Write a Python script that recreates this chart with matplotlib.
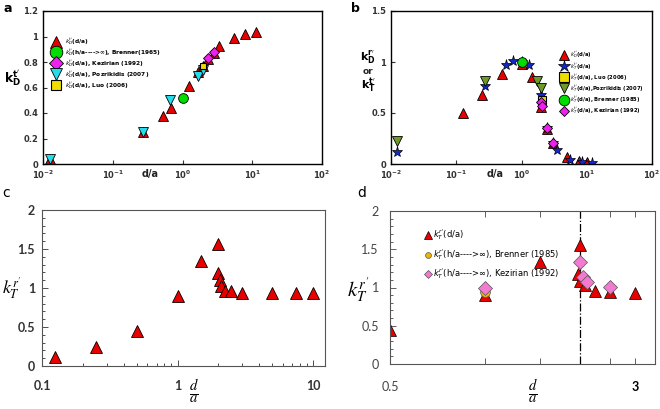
import matplotlib
matplotlib.use("Agg")
import matplotlib.pyplot as plt
from matplotlib.ticker import LogLocator, FixedLocator, NullFormatter, AutoMinorLocator

# ---------------- data ----------------
# panel a
a_tri_x = [0.0125, 0.27, 0.52, 0.68, 1.25, 1.65, 2.0, 2.3, 2.8, 3.3, 5.4, 8.0, 11.5]
a_tri_y = [0.04, 0.25, 0.38, 0.44, 0.61, 0.72, 0.77, 0.82, 0.87, 0.925, 0.99, 1.02, 1.035]
a_bren_x = [1.0]
a_bren_y = [0.52]
a_kez_x = [2.35, 2.8]
a_kez_y = [0.83, 0.875]
a_poz_x = [0.0125, 0.27, 0.66, 1.65, 2.0]
a_poz_y = [0.04, 0.25, 0.50, 0.69, 0.74]
a_luo_x = [1.95]
a_luo_y = [0.77]

# panel b
b_tri_x = [0.125, 0.25, 0.5, 1.0, 1.45, 2.0, 2.5, 3.0, 5.0, 7.5, 10.0]
b_tri_y = [0.5, 0.68, 0.88, 0.985, 0.85, 0.56, 0.34, 0.21, 0.065, 0.026, 0.02]
b_star_x = [0.0125, 0.28, 0.57, 0.73, 1.0, 1.3, 2.0, 2.5, 3.0, 3.5, 5.6, 8.4, 12.0]
b_star_y = [0.115, 0.76, 0.97, 1.01, 1.0, 0.97, 0.68, 0.35, 0.21, 0.14, 0.035, 0.016, 0.005]
b_luo_x = [2.05]
b_luo_y = [0.63]
b_poz_x = [0.0125, 0.28, 1.72, 2.0]
b_poz_y = [0.23, 0.81, 0.81, 0.75]
b_bren_x = [1.0]
b_bren_y = [1.0]
b_kez_x = [2.0, 2.05, 2.5, 3.0]
b_kez_y = [0.61, 0.57, 0.35, 0.21]

# panel c
c_x = [0.125, 0.25, 0.5, 1.0, 1.5, 2.0, 2.0, 2.05, 2.1, 2.25, 2.5, 3.0, 5.0, 7.5, 10.0]
c_y = [0.12, 0.25, 0.45, 0.9, 1.34, 1.56, 1.19, 1.10, 1.02, 0.96, 0.96, 0.94, 0.94, 0.94, 0.94]

# panel d
d_tri_x = [0.5, 1.0, 1.5, 2.0, 1.98, 2.01, 2.08, 2.24, 2.49, 2.99]
d_tri_y = [0.45, 0.9, 1.33, 1.56, 1.17, 1.09, 1.03, 0.95, 0.945, 0.93]
d_bren_x = [1.0]
d_bren_y = [0.94]
d_kez_x = [1.0, 2.0, 2.05, 2.11, 2.49]
d_kez_y = [1.0, 1.33, 1.14, 1.07, 1.01]
d_xref = 2.0

RED = '#e80000'

fig = plt.figure(figsize=(6.6, 4.09), dpi=100)
W, H = 660, 409


def add_ax(l, t, r, b):
    return fig.add_axes([l / W, 1 - b / H, (r - l) / W, (b - t) / H])


def style_top(ax):
    for s in ax.spines.values():
        s.set_linewidth(1.0)
    ax.tick_params(which='both', direction='in', labelsize=6, colors='#333333',
                   width=0.8)
    ax.tick_params(which='major', length=3)
    ax.tick_params(which='minor', length=0)
    for lab in ax.get_xticklabels() + ax.get_yticklabels():
        lab.set_fontweight('bold')


# ---------------- panel a ----------------
ax = add_ax(43, 11, 322, 164)
ms = 7
ax.plot(a_tri_x, a_tri_y, '^', ms=ms, mfc=RED, mec='k', mew=0.6, ls='none',
        label=r"$k_D^{t'}$(d/a)")
ax.plot(a_bren_x, a_bren_y, 'o', ms=ms, mfc='#00dd00', mec='k', mew=0.6, ls='none',
        label=r"$k_D^{t'}$(h/a---->$\infty$), Brenner(1965)")
ax.plot(a_kez_x, a_kez_y, 'D', ms=ms - 1.5, mfc='#ee22ee', mec='k', mew=0.6, ls='none',
        label=r"$k_D^{t'}$(d/a), Kezirian (1992)")
ax.plot(a_poz_x, a_poz_y, 'v', ms=ms, mfc='#22ddee', mec='k', mew=0.6, ls='none',
        label=r"$k_D^{t'}$(d/a), Pozrikidis (2007)")
ax.plot(a_luo_x, a_luo_y, 's', ms=ms - 2, mfc='#eedd00', mec='k', mew=0.8, ls='none',
        label=r"$k_D^{t'}$(d/a), Luo (2006)")
ax.set_xscale('log')
ax.set_xlim(0.01, 100)
ax.set_ylim(0, 1.2)
ax.set_yticks([0, 0.2, 0.4, 0.6, 0.8, 1.0, 1.2])
ax.set_yticklabels(['0', '0.2', '0.4', '0.6', '0.8', '1', '1.2'])
ax.xaxis.set_major_locator(LogLocator(base=10, numticks=10))
ax.xaxis.set_minor_formatter(NullFormatter())
style_top(ax)
leg = ax.legend(loc='upper left', bbox_to_anchor=(0.02, 0.86), frameon=False,
                fontsize=4.2, labelspacing=0.05, handletextpad=0.9,
                handlelength=1.2, markerscale=1.3, borderaxespad=0.3)
for t in leg.get_texts():
    t.set_fontweight('bold')
fig.text(13 / W, 1 - 78 / H, r"$\mathbf{k_{D}^{t'}}$", fontsize=9, ha='center', va='center')
fig.text(150 / W, 1 - 174 / H, 'd/a', fontsize=7, fontweight='bold', ha='center',
         va='center', color='#222222')

# ---------------- panel b ----------------
ax = add_ax(391, 11, 652, 164)
ax.plot(b_tri_x, b_tri_y, '^', ms=ms, mfc=RED, mec='k', mew=0.6, ls='none',
        label=r"$k_D^{r'}$(d/a)")
ax.plot(b_star_x, b_star_y, '*', ms=ms + 1, mfc='#1428c8', mec='k', mew=0.5, ls='none',
        label=r"$k_T^{t'}$(d/a)")
ax.plot(b_luo_x, b_luo_y, 's', ms=ms - 1, mfc='#eedd00', mec='k', mew=0.8, ls='none',
        label=r"$k_T^{t'}$(d/a), Luo (2006)")
ax.plot(b_poz_x, b_poz_y, 'v', ms=ms, mfc='#6f9a2a', mec='k', mew=0.6, ls='none',
        label=r"$k_T^{t'}$(d/a),Pozrikidis (2007)")
ax.plot(b_bren_x, b_bren_y, 'o', ms=ms, mfc='#00dd00', mec='k', mew=0.6, ls='none',
        label=r"$k_T^{t'}$(d/a), Brenner (1985)")
ax.plot(b_kez_x, b_kez_y, 'D', ms=ms - 2, mfc='#ee22ee', mec='k', mew=0.6, ls='none',
        label=r"$k_T^{t'}$(d/a), Kezirian (1992)")
ax.set_xscale('log')
ax.set_xlim(0.01, 100)
ax.set_ylim(0, 1.5)
ax.set_yticks([0, 0.5, 1.0, 1.5])
ax.set_yticklabels(['0', '0.5', '1', '1.5'])
ax.xaxis.set_major_locator(LogLocator(base=10, numticks=10))
ax.xaxis.set_minor_formatter(NullFormatter())
style_top(ax)
leg = ax.legend(loc='upper left', bbox_to_anchor=(0.635, 0.77), frameon=False,
                fontsize=3.8, labelspacing=0.1, handletextpad=0.6,
                handlelength=1.2, markerscale=1.1, borderaxespad=0.3)
for t in leg.get_texts():
    t.set_fontweight('bold')
fig.text(368 / W, 1 - 57 / H, r"$\mathbf{k_{D}^{r'}}$", fontsize=8, ha='center', va='center')
fig.text(368 / W, 1 - 72 / H, 'or', fontsize=6.5, fontweight='bold', ha='center', va='center',
         color='#222222')
fig.text(368 / W, 1 - 86 / H, r"$\mathbf{k_{T}^{t'}}$", fontsize=8, ha='center', va='center')
fig.text(495 / W, 1 - 174 / H, 'd/a', fontsize=7, fontweight='bold', ha='center',
         va='center', color='#222222')

# ---------------- panel c ----------------
ax = add_ax(42, 210, 325, 366)
ax.plot(c_x, c_y, '^', ms=9, mfc=RED, mec='k', mew=0.6, ls='none')
ax.set_xscale('log')
ax.set_xlim(0.1, 12.25)
ax.set_ylim(0, 2)
ax.set_xticks([0.1, 1, 10])
ax.set_xticklabels(['0.1', '1', '10'])
ax.xaxis.set_minor_formatter(NullFormatter())
ax.set_yticks([0, 0.5, 1, 1.5, 2])
ax.set_yticklabels(['0', '0.5', '1', '1.5', '2'])
ax.yaxis.set_minor_locator(AutoMinorLocator(5))
for s in ax.spines.values():
    s.set_linewidth(0.8)
    s.set_color('#555555')
ax.tick_params(which='both', direction='in', labelsize=9, colors='#333333', width=0.6)
ax.tick_params(which='major', length=4, pad=5)
ax.tick_params(axis='x', which='major', pad=10)
ax.tick_params(which='minor', length=2.5)
for lab in ax.get_xticklabels() + ax.get_yticklabels():
    lab.set_fontweight('bold')
    lab.set_fontfamily('Lato')
fig.text(12 / W, 1 - 288 / H, r"$k_T^{r'}$", fontsize=13, ha='center', va='center',
         math_fontfamily='stix')
fig.text(194 / W, 1 - 392 / H, r"$\frac{d}{a}$", fontsize=15, ha='center', va='center',
         math_fontfamily='stix')

# ---------------- panel d ----------------
ax = add_ax(390, 211, 655, 364)
ax.axvline(d_xref, color='k', ls='-.', lw=0.9)
ax.plot(d_tri_x, d_tri_y, '^', ms=9, mfc=RED, mec='k', mew=0.5, ls='none',
        label=r"$k_T^{r'}$(d/a)")
ax.plot(d_bren_x, d_bren_y, 'o', ms=7, mfc='#f0b400', mec='#555555', mew=0.5, ls='none',
        label=r"$k_T^{r'}$(h/a---->$\infty$), Brenner (1985)")
ax.plot(d_kez_x, d_kez_y, 'D', ms=7, mfc='#f27ad0', mec='#555555', mew=0.5, ls='none',
        label=r"$k_T^{r'}$(h/a---->$\infty$), Kezirian (1992)")
ax.set_xscale('log')
ax.set_xlim(0.5, 3.47)
ax.set_ylim(0, 2)
ax.xaxis.set_major_locator(FixedLocator([0.5, 1, 1.5, 2, 2.5, 3]))
ax.xaxis.set_minor_locator(FixedLocator([]))
ax.set_xticklabels(['0.5', '', '', '', '', '3'])
ax.set_yticks([0, 0.5, 1, 1.5, 2])
ax.set_yticklabels(['0', '0.5', '1', '1.5', '2'])
ax.yaxis.set_minor_locator(AutoMinorLocator(5))
for s in ax.spines.values():
    s.set_linewidth(0.8)
    s.set_color('#555555')
ax.tick_params(which='both', direction='in', labelsize=9, colors='#444444', width=0.6,
               top=True)
ax.tick_params(which='major', length=4, pad=8)
ax.tick_params(axis='x', which='major', pad=12)
ax.tick_params(which='minor', length=2.5)
for lab in ax.get_xticklabels() + ax.get_yticklabels():
    lab.set_fontfamily('Lato')
ax.get_xticklabels()[-1].set_fontweight('bold')
ax.get_xticklabels()[-1].set_color('k')
leg = ax.legend(loc='upper left', bbox_to_anchor=(0.11, 0.93), frameon=False,
                fontsize=6, labelspacing=0.55, handletextpad=0.15,
                handlelength=0.8, markerscale=0.6, borderaxespad=0.3)
fig.text(358 / W, 1 - 290 / H, r"$k_T^{r'}$", fontsize=15, ha='center', va='center',
         math_fontfamily='stix', fontweight='bold')
fig.text(533 / W, 1 - 392 / H, r"$\frac{d}{a}$", fontsize=15, ha='center', va='center',
         math_fontfamily='stix')

# panel letters
fig.text(8 / W, 1 - 8 / H, 'a', fontsize=9, fontweight='bold', ha='center', va='center')
fig.text(355 / W, 1 - 8 / H, 'b', fontsize=9, fontweight='bold', ha='center', va='center')
fig.text(6 / W, 1 - 193 / H, 'c', fontsize=10, ha='center', va='center')
fig.text(362 / W, 1 - 193 / H, 'd', fontsize=10, ha='center', va='center')

fig.savefig('out.png', dpi=100)
